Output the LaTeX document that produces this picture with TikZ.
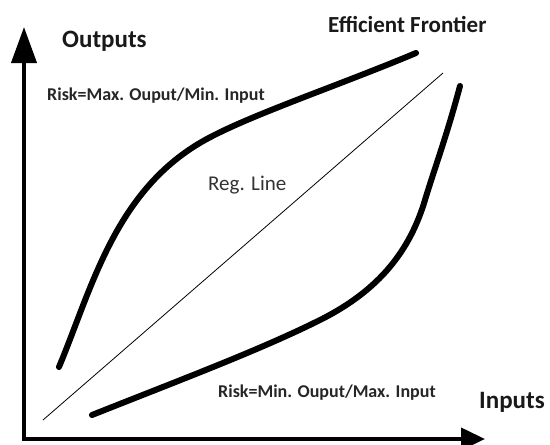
\documentclass[tikz,border=0pt]{standalone}
\usepackage{fontspec}
\setmainfont{Carlito}
\usetikzlibrary{arrows.meta}
\begin{document}
\begin{tikzpicture}[x=1pt,y=-1pt,
  axis/.style={line width=4pt},
  frontier/.style={line width=6pt, line cap=round, line join=round},
  regline/.style={line width=0.8pt},
  biglabel/.style={font=\fontsize{25}{30}\selectfont\bfseries, text=black!90, inner sep=0pt},
  toplabel/.style={font=\fontsize{23}{26}\selectfont\bfseries, text=black!90, inner sep=0pt},
  risklabel/.style={font=\fontsize{18}{21}\selectfont\bfseries, text=black!85, inner sep=0pt},
  reglabel/.style={font=\fontsize{21}{24}\selectfont, text=black!80, inner sep=0pt}]
\useasboundingbox (0,0) rectangle (550,445);
\fill[white] (0,0) rectangle (550,445);
% axes
\coordinate (O) at (24,439);
\coordinate (Ytip) at (24,27);
\coordinate (Xtip) at (485,439);
\draw[axis, {Triangle[length=36pt,width=25pt]}-{Triangle[length=24pt,width=22pt]}] (Ytip) -- (O) -- (Xtip);
% regression line
\coordinate (R1) at (43,420);
\coordinate (R2) at (443,73);
\draw[regline] (R1) -- (R2);
% upper frontier
\draw[frontier] (59,367) .. controls (92,288) and (115,190) .. (205,140)
                         .. controls (250,115) and (340,85) .. (416,53);
% lower frontier
\draw[frontier] (92,415) .. controls (180,380) and (260,350) .. (320,320)
                         .. controls (380,290) and (410,250) .. (425,200)
                         .. controls (435,167) and (447,135) .. (460,86);
% labels
\node[biglabel, anchor=base west] (outputs) at (62,47) {Outputs};
\node[toplabel, anchor=base west] (ef) at (328,32) {Efficient Frontier};
\node[risklabel, anchor=base west] (rmax) at (47,100) {Risk=Max. Ouput/Min. Input};
\node[reglabel, anchor=base west] (reg) at (208,190) {Reg. Line};
\node[risklabel, anchor=base west] (rmin) at (218,397) {Risk=Min. Ouput/Max. Input};
\node[biglabel, anchor=base west] (inputs) at (479,408) {Inputs};
\end{tikzpicture}
\end{document}
